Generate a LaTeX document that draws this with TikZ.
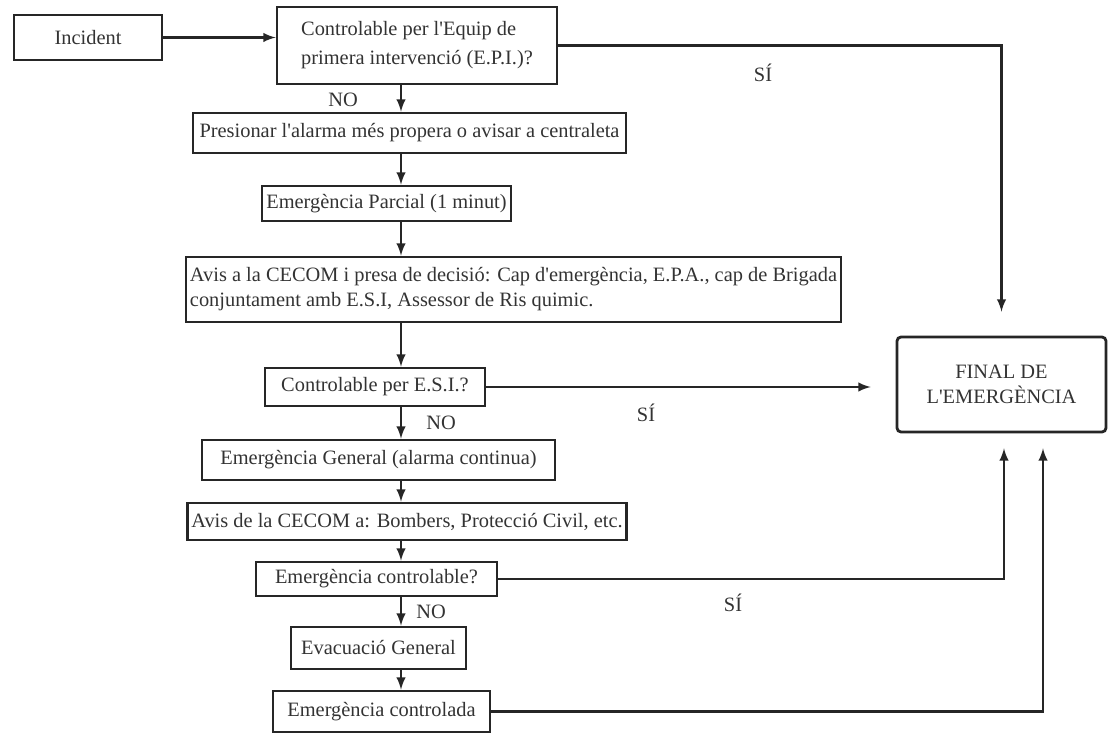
\documentclass[tikz,border=0pt]{standalone}
\usepackage{fontspec}
\setmainfont{Liberation Serif}
\usepackage{tikz}
\usetikzlibrary{positioning}

\begin{document}
\begin{tikzpicture}[x=0.5pt, y=-0.5pt]

  \tikzstyle{box}=[rectangle, draw = black!85, line width = 1.4pt, inner sep = 2pt, align = left, text = black!80, font = \fontsize{10.2}{12.5}\selectfont]
  \tikzstyle{lbl}=[inner sep = 1pt, text = black!80, font = \fontsize{10.2}{12.5}\selectfont]
  \tikzstyle{connect}=[-latex, line width = 1.1pt, draw = black!85]

  \useasboundingbox (0,0) rectangle (1108,742);

  \node[box, minimum width = 74pt, minimum height = 22.5pt] (incident) at (88,37.5) {Incident};
  \node[box, minimum width = 140pt, minimum height = 38.5pt] (epi) at (417,45.5) {Controlable per l\textquotesingle Equip de\\[2pt] primera intervenció (E.P.I.)?};
  \node[box, minimum width = 216.5pt, minimum height = 20pt] (presionar) at (409.5,133) {Presionar l\textquotesingle alarma més propera o avisar a centraleta};
  \node[box, minimum width = 124.5pt, minimum height = 17.5pt] (parcial) at (386.5,203.5) {Emergència Parcial (1 minut)};
  \node[box, minimum width = 281.5pt, minimum height = 32.5pt] (avis) at (513.5,289.5) {Avis a la CECOM i presa de decisió: Cap d\textquotesingle emergència, E.P.A., cap de Brigada\\ conjuntament amb E.S.I, Assessor de Ris quimic.};
  \node[box, minimum width = 110pt, minimum height = 19pt] (esi) at (375,387) {Controlable per E.S.I.?};
  \node[box, minimum width = 176.5pt, minimum height = 20pt] (general) at (378.5,460) {Emergència General (alarma continua)};
  \node[box, minimum width = 218pt, minimum height = 18.5pt] (bombers) at (407,521.5) {Avis de la CECOM a: Bombers, Protecció Civil, etc.};
  \node[box, minimum width = 120.5pt, minimum height = 17pt] (controlable) at (376.5,579) {Emergència controlable?};
  \node[box, minimum width = 87.5pt, minimum height = 21pt] (evacuacio) at (378.5,648) {Evacuació General};
  \node[box, minimum width = 108.5pt, minimum height = 20.5pt] (controlada) at (381.5,711.5) {Emergència controlada};
  \node[box, rounded corners = 2pt, align = center, minimum width = 104.5pt, minimum height = 47.5pt] (final) at (1001.5,384.5) {FINAL DE\\ L\textquotesingle EMERGÈNCIA};

  \coordinate (col) at (401,0);

  \node[lbl] (no1) at (343,100) {NO};
  \node[lbl] (si1) at (763,73) {SÍ};
  \node[lbl] (si2) at (646,413) {SÍ};
  \node[lbl] (no2) at (441,423) {NO};
  \node[lbl] (si3) at (733,603) {SÍ};
  \node[lbl] (no3) at (431,612) {NO};

  \draw[connect] (incident.east) -- (incident.east -| epi.west);
  \draw[connect] (epi.south -| col) -- (presionar.north -| col);
  \draw[connect] (presionar.south -| col) -- (parcial.north -| col);
  \draw[connect] (parcial.south -| col) -- (avis.north -| col);
  \draw[connect] (avis.south -| col) -- (esi.north -| col);
  \draw[connect] (esi.south -| col) -- (general.north -| col);
  \draw[connect] (general.south -| col) -- (bombers.north -| col);
  \draw[connect] (bombers.south -| col) -- (controlable.north -| col);
  \draw[connect] (controlable.south -| col) -- (evacuacio.north -| col);
  \draw[connect] (evacuacio.south -| col) -- (controlada.north -| col);

  \draw[connect, shorten > = 12pt] (epi.east) -| (final.north);
  \draw[connect, shorten > = 12.5pt] (esi.east) -- (esi.east -| final.west);
  \draw[connect, shorten > = 7.5pt] (controlable.east) -| ([xshift = 1.25pt]final.south);
  \draw[connect, shorten > = 7.5pt] (controlada.east) -| ([xshift = 20.75pt]final.south);

\end{tikzpicture}
\end{document}
